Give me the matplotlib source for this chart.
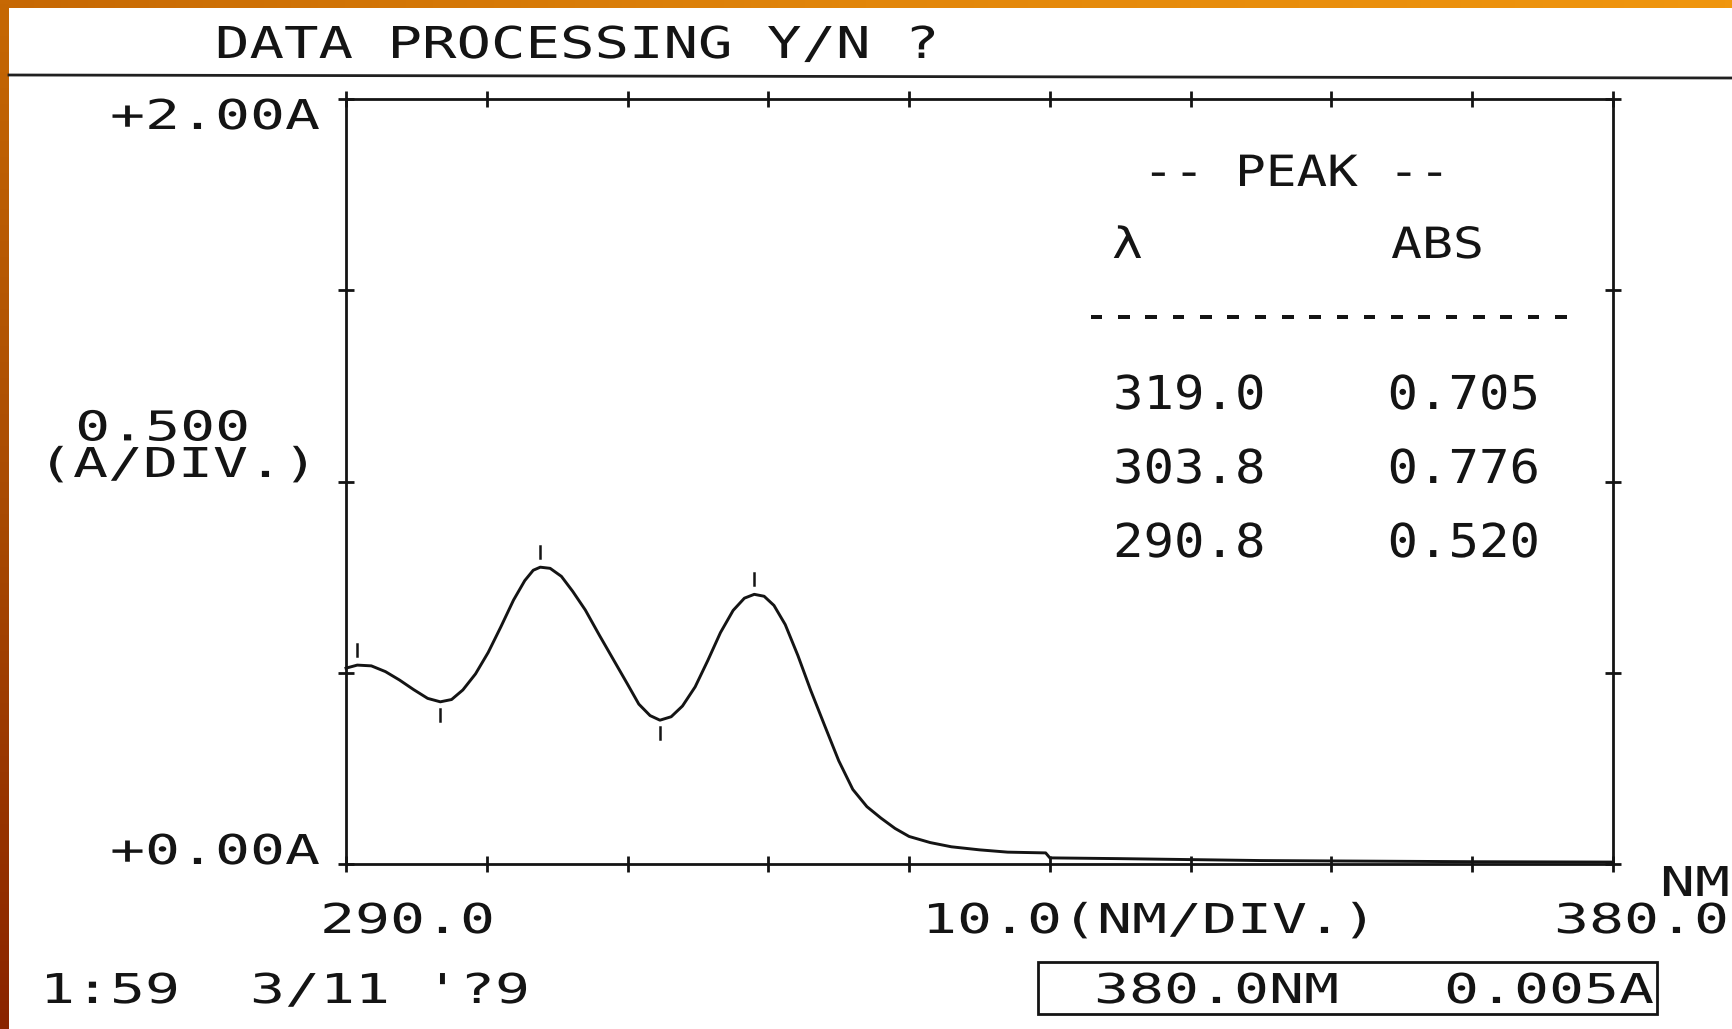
import numpy as np
import matplotlib
matplotlib.use("Agg")
import matplotlib.pyplot as plt
import matplotlib.patheffects as pe
from matplotlib.transforms import Affine2D
from matplotlib.patches import Rectangle
from matplotlib.lines import Line2D
from matplotlib.colors import LinearSegmentedColormap

# spectrum (nm, absorbance)
wavelength = [290.0, 290.8, 291.8, 292.8, 293.8, 294.8, 295.8, 296.7, 297.5, 298.3,
              299.2, 300.1, 301.0, 301.9, 302.7, 303.3, 303.8, 304.5, 305.3, 306.1,
              307.0, 308.0, 309.0, 310.0, 310.8, 311.6, 312.3, 313.1, 313.9, 314.8,
              315.7, 316.6, 317.5, 318.3, 319.0, 319.7, 320.4, 321.2, 322.1, 323.0,
              324.0, 325.0, 326.0, 327.0, 328.0, 329.0, 330.0, 331.5, 333.0, 335.0,
              337.0, 339.7, 340.0, 345.0, 349.0, 355.0, 360.0, 370.0, 380.0]
absorbance = [0.512, 0.520, 0.518, 0.503, 0.481, 0.456, 0.433, 0.424, 0.430, 0.455,
              0.497, 0.553, 0.620, 0.690, 0.741, 0.768, 0.776, 0.773, 0.752, 0.713,
              0.664, 0.598, 0.534, 0.470, 0.418, 0.388, 0.376, 0.385, 0.413, 0.463,
              0.532, 0.605, 0.663, 0.695, 0.705, 0.700, 0.676, 0.626, 0.545, 0.455,
              0.362, 0.270, 0.195, 0.150, 0.120, 0.093, 0.072, 0.056, 0.045, 0.037,
              0.031, 0.029, 0.016, 0.014, 0.012, 0.009, 0.008, 0.006, 0.005]

peak_wl = [319.0, 303.8, 290.8]
peak_abs = [0.705, 0.776, 0.520]
valley_wl = [296.7, 312.3]
valley_abs = [0.424, 0.376]

x_ticks = [290, 300, 310, 320, 330, 340, 350, 360, 370, 380]
y_ticks = [0.0, 0.5, 1.0, 1.5, 2.0]

W, H, DPI = 1732, 1029, 100
INK = "#141414"
MONO = "DejaVu Sans Mono"
ADV = 1233 / 2048  # advance width of DejaVu Sans Mono, in em


class Stretch(pe.AbstractPathEffect):
    # widen glyphs so the mono font gets the printer's wide pitch
    def __init__(self, sx):
        super().__init__()
        self.sx = sx

    def draw_path(self, renderer, gc, tpath, affine, rgbFace=None):
        renderer.draw_path(gc, tpath, Affine2D().scale(self.sx, 1.0) + affine, rgbFace)


fig = plt.figure(figsize=(W / DPI, H / DPI), dpi=DPI, facecolor="white")


def put(x, y, s, pt, pitch, **kw):
    em = pt * DPI / 72
    sx = pitch / (ADV * em)
    fig.text(x / W, 1 - y / H, s, fontsize=pt, family=MONO, color=INK,
             ha="left", va="baseline", path_effects=[Stretch(sx)], **kw)


# orange slide border (top and left edge)
top = fig.add_axes([0, 1 - 8 / H, 1, 8 / H])
top.imshow(np.linspace(0, 1, 256)[None, :], aspect="auto",
           cmap=LinearSegmentedColormap.from_list("t", ["#c66804", "#e2860a", "#f0960e"]))
top.axis("off")
left = fig.add_axes([0, 0, 9 / W, 1])
left.imshow(np.linspace(0, 1, 256)[:, None], aspect="auto",
            cmap=LinearSegmentedColormap.from_list("l", ["#c66804", "#a84a02", "#8a2400"]))
left.axis("off")

# rule under the prompt line
fig.add_artist(Line2D([9 / W, 1], [1 - 75 / H, 1 - 78 / H], color="#202020", lw=2))

ax = fig.add_axes([346 / W, 1 - 864 / H, (1613 - 346) / W, (864 - 99) / H])
ax.set_xlim(290, 380)
ax.set_ylim(0, 2)
ax.set_xticks(x_ticks)
ax.set_yticks(y_ticks)
ax.tick_params(which="both", direction="inout", length=12, width=2, color=INK,
               top=True, right=True, labelbottom=False, labelleft=False)
for sp in ax.spines.values():
    sp.set_linewidth(2)
    sp.set_color(INK)

ax.plot(wavelength, absorbance, color=INK, lw=2.1, clip_on=False)

# little peak / valley markers
for w, a in zip(peak_wl, peak_abs):
    ax.plot([w, w], [a + 0.025, a + 0.056], color=INK, lw=1.8)
for w, a in zip(valley_wl, valley_abs):
    ax.plot([w, w], [a - 0.019, a - 0.050], color=INK, lw=1.8)

# printer text
put(215, 58, "DATA PROCESSING Y/N ?", 31.6, 34.5)
put(110, 129, "+2.00A", 29.6, 35)
put(38, 477, "0.500\n(A/DIV.)", 29.6, 35, multialignment="center", linespacing=0.89)
put(110, 864, "+0.00A", 29.6, 35)
put(320, 933, "290.0", 29.6, 35)
put(922, 933, "10.0(NM/DIV.)", 29.6, 35)
put(1660, 896, "NM", 29.6, 35)
put(1554, 933, "380.0", 29.6, 35)
put(40, 1003, "1:59  3/11 '?9", 29.6, 35)

fig.add_artist(Rectangle((1038 / W, 1 - 1014 / H), (1657 - 1038) / W, (1014 - 962) / H,
                         transform=fig.transFigure, fill=False, ec=INK, lw=2))
put(1094, 1003, f"{wavelength[-1]:.1f}NM   {absorbance[-1]:.3f}A", 29.6, 35)

# peak table
put(1143, 186, "-- PEAK --", 31, 30.7)
put(1112, 258, "\u03bb        ABS", 31, 31)
put(1083, 330, "-" * 18, 33.6, 27.3)
for i, (w, a) in enumerate(zip(peak_wl, peak_abs)):
    put(1113, 409 + 74 * i, f"{w:.1f}    {a:.3f}", 33.6, 30.5)

fig.savefig("out.png", dpi=DPI, facecolor="white")
